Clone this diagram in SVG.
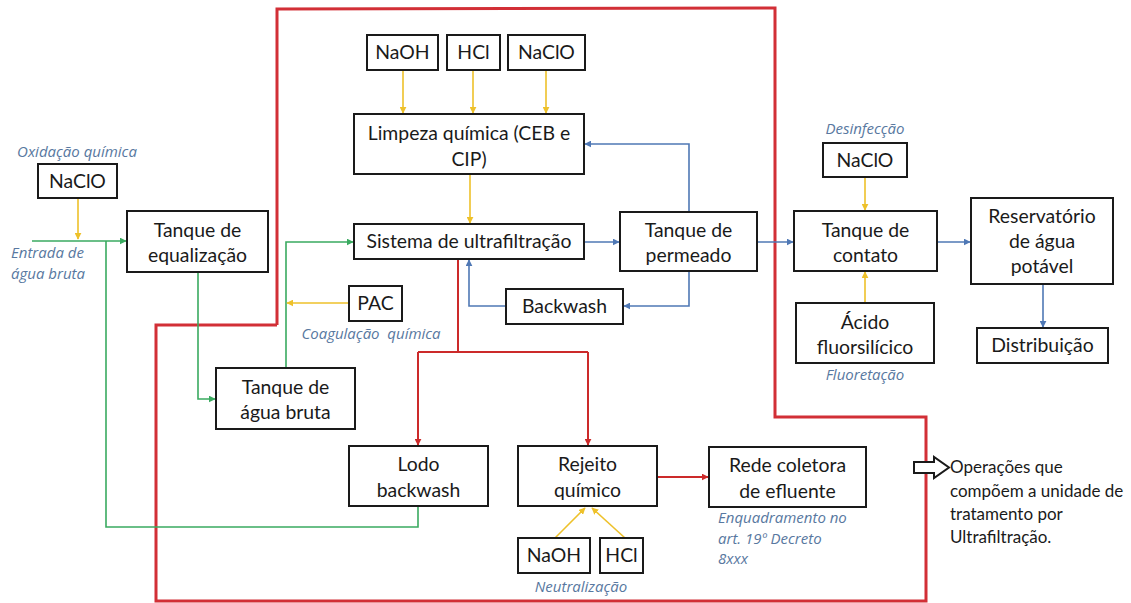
<svg xmlns="http://www.w3.org/2000/svg" width="1131" height="603" viewBox="0 0 1131 603">
<defs>
<style>
.box{fill:#fff;stroke:#1a1a1a;stroke-width:2}
.t{font-family:Lato,"Liberation Sans",sans-serif;font-size:19.4px;fill:#1a1a1a;text-anchor:middle}
.lbl{font-family:"Open Sans","Liberation Sans",sans-serif;font-style:italic;font-size:15px;fill:#5878a0}
.leg{font-family:Lato,"Liberation Sans",sans-serif;font-size:17px;fill:#1a1a1a}
.c{fill:none;stroke-width:1.6}
.y{stroke:#eec12a}
.g{stroke:#3aaa60}
.b{stroke:#4f78b5}
.r{stroke:#cc2a2a;stroke-width:2}
.bound{fill:none;stroke:#d22f36;stroke-width:3}
</style>
<marker id="ay" viewBox="0 0 10 10" refX="9" refY="5" markerWidth="7" markerHeight="7" markerUnits="userSpaceOnUse" orient="auto"><path d="M0,0L10,5L0,10z" fill="#eec12a"/></marker>
<marker id="ag" viewBox="0 0 10 10" refX="9" refY="5" markerWidth="7" markerHeight="7" markerUnits="userSpaceOnUse" orient="auto"><path d="M0,0L10,5L0,10z" fill="#3aaa60"/></marker>
<marker id="ab" viewBox="0 0 10 10" refX="9" refY="5" markerWidth="7" markerHeight="7" markerUnits="userSpaceOnUse" orient="auto"><path d="M0,0L10,5L0,10z" fill="#4f78b5"/></marker>
<marker id="ar" viewBox="0 0 10 10" refX="9" refY="5" markerWidth="7" markerHeight="7" markerUnits="userSpaceOnUse" orient="auto"><path d="M0,0L10,5L0,10z" fill="#cc2a2a"/></marker>
</defs>
<rect width="1131" height="603" fill="#fff"/>

<g id="boundary">
<polyline class="bound" points="277,325 277,9 775,8 775,417 926,417 926,601 156,601 156,325 277,325"/>
</g>

<g id="connectors">
<path class="c y" d="M78,198V239" marker-end="url(#ay)"/>
<path class="c g" d="M32,241H126" marker-end="url(#ag)"/>
<path class="c g" d="M418,506V527H106V241"/>
<path class="c g" d="M198,272V399H215" marker-end="url(#ag)"/>
<path class="c g" d="M286,368V242H353" marker-end="url(#ag)"/>
<path class="c y" d="M349,303H287" marker-end="url(#ay)"/>
<path class="c y" d="M403,70V113" marker-end="url(#ay)"/>
<path class="c y" d="M473,70V113" marker-end="url(#ay)"/>
<path class="c y" d="M546,70V113" marker-end="url(#ay)"/>
<path class="c y" d="M470,174V223" marker-end="url(#ay)"/>
<path class="c b" d="M584,242H619" marker-end="url(#ab)"/>
<path class="c b" d="M689,212V144H585" marker-end="url(#ab)"/>
<path class="c b" d="M689,271V306H624" marker-end="url(#ab)"/>
<path class="c b" d="M506,306H469V260" marker-end="url(#ab)"/>
<path class="c b" d="M757,242H793" marker-end="url(#ab)"/>
<path class="c y" d="M865,177V210" marker-end="url(#ay)"/>
<path class="c y" d="M865,303V272" marker-end="url(#ay)"/>
<path class="c b" d="M937,242H970" marker-end="url(#ab)"/>
<path class="c b" d="M1043,284V327" marker-end="url(#ab)"/>
<path class="c r" d="M458,259V352"/>
<path class="c r" d="M418,352H588"/>
<path class="c r" d="M418,352V445" marker-end="url(#ar)"/>
<path class="c r" d="M588,352V445" marker-end="url(#ar)"/>
<path class="c r" d="M657,477H708" marker-end="url(#ar)"/>
<path class="c y" d="M555,538L585,508" marker-end="url(#ay)"/>
<path class="c y" d="M625,538L592,508" marker-end="url(#ay)"/>
</g>

<g id="n-naclo-ox"><rect class="box" x="38" y="164" width="79" height="34"/><text class="t" x="77.5" y="188">NaClO</text></g>
<g id="n-equalizacao"><rect class="box" x="127" y="211" width="141" height="61"/><text class="t" x="197.5" y="237">Tanque de</text><text class="t" x="197.5" y="262">equalização</text></g>
<g id="n-agua-bruta"><rect class="box" x="216" y="368" width="139" height="61"/><text class="t" x="285.5" y="394">Tanque de</text><text class="t" x="285.5" y="419">água bruta</text></g>
<g id="n-pac"><rect class="box" x="349" y="286" width="53" height="35"/><text class="t" x="375.5" y="310">PAC</text></g>
<g id="n-uf"><rect class="box" x="354" y="224" width="230" height="35"/><text class="t" x="469" y="248">Sistema de ultrafiltração</text></g>
<g id="n-limpeza"><rect class="box" x="354" y="114" width="230" height="60"/><text class="t" x="469" y="140">Limpeza química (CEB e</text><text class="t" x="469" y="166">CIP)</text></g>
<g id="n-naoh-top"><rect class="box" x="367" y="35" width="71" height="35"/><text class="t" x="402.5" y="59">NaOH</text></g>
<g id="n-hcl-top"><rect class="box" x="447" y="35" width="53" height="35"/><text class="t" x="473.5" y="59">HCl</text></g>
<g id="n-naclo-top"><rect class="box" x="508" y="35" width="77" height="35"/><text class="t" x="546.5" y="59">NaClO</text></g>
<g id="n-permeado"><rect class="box" x="620" y="212" width="137" height="59"/><text class="t" x="688.5" y="237">Tanque de</text><text class="t" x="688.5" y="262">permeado</text></g>
<g id="n-backwash"><rect class="box" x="506" y="289" width="117" height="35"/><text class="t" x="564.5" y="313">Backwash</text></g>
<g id="n-contato"><rect class="box" x="794" y="211" width="143" height="60"/><text class="t" x="865.5" y="237">Tanque de</text><text class="t" x="865.5" y="262">contato</text></g>
<g id="n-naclo-des"><rect class="box" x="823" y="143" width="84" height="34"/><text class="t" x="865" y="167">NaClO</text></g>
<g id="n-fluor"><rect class="box" x="796" y="303" width="138" height="60"/><text class="t" x="865" y="329">Ácido</text><text class="t" x="865" y="354">fluorsilícico</text></g>
<g id="n-reservatorio"><rect class="box" x="971" y="198" width="142" height="86"/><text class="t" x="1042" y="223">Reservatório</text><text class="t" x="1042" y="248">de água</text><text class="t" x="1042" y="273">potável</text></g>
<g id="n-distribuicao"><rect class="box" x="977" y="328" width="131" height="35"/><text class="t" x="1042.5" y="352">Distribuição</text></g>
<g id="n-lodo"><rect class="box" x="349" y="446" width="139" height="60"/><text class="t" x="418.5" y="471">Lodo</text><text class="t" x="418.5" y="497">backwash</text></g>
<g id="n-rejeito"><rect class="box" x="518" y="446" width="139" height="60"/><text class="t" x="587.5" y="471">Rejeito</text><text class="t" x="587.5" y="497">químico</text></g>
<g id="n-rede"><rect class="box" x="709" y="447" width="157" height="60"/><text class="t" x="787.5" y="472">Rede coletora</text><text class="t" x="787.5" y="498">de efluente</text></g>
<g id="n-naoh-bot"><rect class="box" x="518" y="538" width="72" height="35"/><text class="t" x="554" y="562">NaOH</text></g>
<g id="n-hcl-bot"><rect class="box" x="600" y="538" width="43" height="35"/><text class="t" x="621.5" y="562">HCl</text></g>

<g id="labels">
<text class="lbl" x="77" y="157" text-anchor="middle">Oxidação química</text>
<text class="lbl" x="11" y="258">Entrada de</text>
<text class="lbl" x="11" y="279">água bruta</text>
<text class="lbl" x="371" y="339" text-anchor="middle" xml:space="preserve">Coagulação  química</text>
<text class="lbl" x="865" y="134" text-anchor="middle">Desinfecção</text>
<text class="lbl" x="865" y="380" text-anchor="middle">Fluoretação</text>
<text class="lbl" x="718" y="523">Enquadramento no</text>
<text class="lbl" x="718" y="544">art. 19º Decreto</text>
<text class="lbl" x="718" y="564">8xxx</text>
<text class="lbl" x="581" y="592" text-anchor="middle">Neutralização</text>
</g>

<g id="legend">
<path d="M914,462H934V457L949,467.5L934,478V473H914Z" fill="#fff" stroke="#1a1a1a" stroke-width="2" stroke-linejoin="miter"/>
<text class="leg" x="950" y="473">Operações que</text>
<text class="leg" x="950" y="497">compõem a unidade de</text>
<text class="leg" x="950" y="520">tratamento por</text>
<text class="leg" x="950" y="543">Ultrafiltração.</text>
</g>
</svg>
